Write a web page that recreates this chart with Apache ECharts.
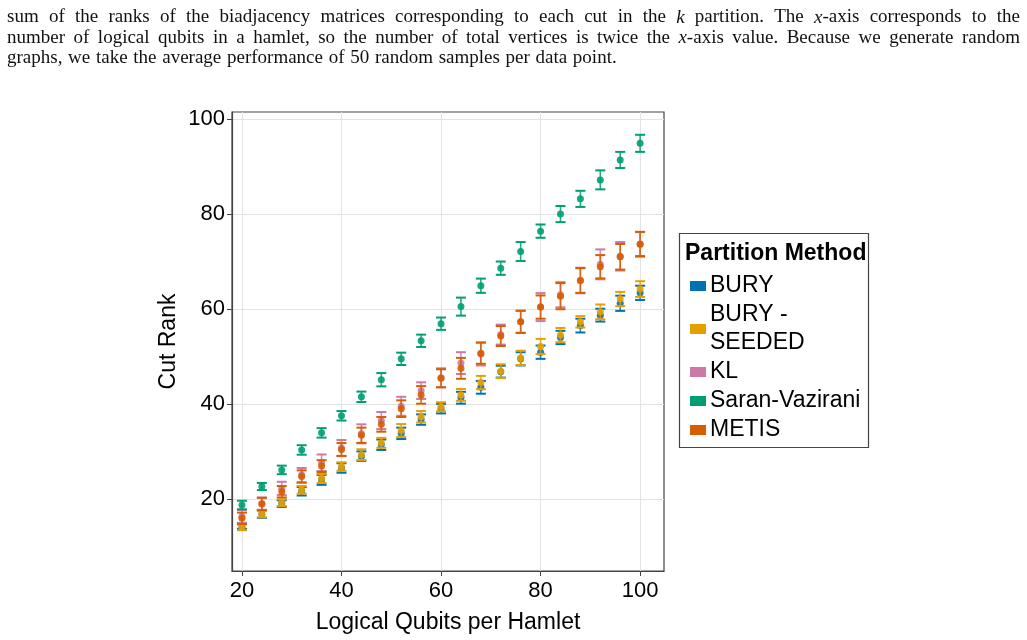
<!DOCTYPE html>
<html>
<head>
<meta charset="utf-8">
<script src="https://cdn.jsdelivr.net/npm/echarts@6/dist/echarts.min.js"></script>
<style>
  html, body { margin: 0; padding: 0; background: #fff; }
  #chart { width: 1027px; height: 640px; }
</style>
</head>
<body>
<div id="chart"></div>
<script>
// logical qubits per hamlet
const qubits = [20, 24, 28, 32, 36, 40, 44, 48, 52, 56, 60, 64, 68, 72, 76, 80, 84, 88, 92, 96, 100]

// mean cut rank and error half-widths
const buryMean = [14.3, 16.8, 19.0, 21.6, 24.0, 26.5, 29.0, 31.4, 33.8, 36.7, 39.0, 41.3, 43.5, 46.8, 49.5, 50.9, 54.0, 56.5, 58.7, 61.2, 63.4]
const buryErr = [0.6, 0.8, 0.7, 0.9, 1.05, 1.0, 1.0, 1.1, 1.2, 1.1, 1.0, 1.25, 1.35, 1.25, 1.4, 1.4, 1.4, 1.45, 1.35, 1.6, 1.5]

const seededMean = [14.0, 16.8, 19.2, 21.9, 24.3, 26.8, 29.3, 31.8, 34.4, 37.3, 39.4, 41.9, 44.5, 46.9, 49.7, 52.1, 54.5, 57.3, 59.4, 62.1, 64.2]
const seededErr = [0.6, 0.7, 0.7, 0.8, 0.95, 0.9, 1.15, 1.05, 1.35, 1.2, 0.95, 1.25, 1.4, 1.45, 1.5, 1.6, 1.5, 1.2, 1.55, 1.5, 1.65]

const klMean = [16.3, 19.0, 22.2, 25.0, 27.6, 30.7, 33.7, 36.5, 39.5, 42.8, 45.5, 48.6, 50.5, 54.6, 57.3, 60.4, 63.0, 66.0, 69.4, 71.1, 73.6]
const klErr = [1.35, 1.3, 1.4, 1.5, 1.75, 1.7, 2.0, 1.8, 2.0, 1.75, 2.0, 2.3, 2.4, 2.1, 2.3, 2.95, 2.65, 2.7, 3.15, 3.0, 2.6]

const svMean = [18.7, 22.6, 26.1, 30.3, 33.9, 37.5, 41.5, 45.1, 49.5, 53.3, 56.9, 60.5, 64.9, 68.6, 72.1, 76.4, 80.0, 83.2, 87.2, 91.4, 94.9]
const svErr = [0.9, 0.75, 0.9, 1.0, 1.0, 1.0, 1.1, 1.4, 1.3, 1.3, 1.3, 1.9, 1.5, 1.4, 2.0, 1.4, 1.7, 1.7, 2.0, 1.7, 1.8]

const metisMean = [15.9, 18.9, 21.5, 24.7, 26.9, 30.4, 33.4, 35.7, 39.0, 41.9, 45.4, 47.5, 50.7, 54.3, 57.3, 60.4, 62.7, 66.0, 68.9, 71.0, 73.7]
const metisErr = [1.2, 1.3, 1.2, 1.3, 1.25, 1.35, 1.6, 1.55, 1.75, 1.85, 1.9, 2.2, 2.25, 2.1, 2.35, 2.45, 2.75, 2.6, 2.45, 2.7, 2.55]

const methods = ['BURY', 'BURY - SEEDED', 'KL', 'Saran-Vazirani', 'METIS']
const xTicks = [20, 40, 60, 80, 100]
const yTicks = [20, 40, 60, 80, 100]

const captionLines = [
  'sum of the ranks of the biadjacency matrices corresponding to each cut in the |k| partition.  The |x|-axis corresponds to the',
  'number of logical qubits in a hamlet, so the number of total vertices is twice the |x|-axis value.  Because we generate random',
  'graphs, we take the average performance of 50 random samples per data point.'
]

const colors = ['#0072B2', '#E69F00', '#CC79A7', '#009E73', '#D55E00']
const means = [buryMean, seededMean, klMean, svMean, metisMean]
const errs = [buryErr, seededErr, klErr, svErr, metisErr]

const FONT = '"Liberation Sans", Arial, sans-serif'
const SERIF = '"Liberation Serif", "DejaVu Serif", serif'

const myChart = echarts.init(document.getElementById('chart'), null, { renderer: 'canvas' })

function errorBarItem (color) {
  return function (params, api) {
    const lo = api.coord([api.value(0), api.value(1)])
    const hi = api.coord([api.value(0), api.value(2)])
    const half = 5
    const style = { stroke: color, lineWidth: 2 }
    return {
      type: 'group',
      children: [
        { type: 'line', shape: { x1: lo[0], y1: lo[1], x2: hi[0], y2: hi[1] }, style: { stroke: color, lineWidth: 1.6, opacity: 0.85 } },
        { type: 'line', shape: { x1: lo[0] - half, y1: lo[1], x2: lo[0] + half, y2: lo[1] }, style },
        { type: 'line', shape: { x1: hi[0] - half, y1: hi[1], x2: hi[0] + half, y2: hi[1] }, style }
      ]
    }
  }
}

const series = []
methods.forEach((name, i) => {
  series.push({
    name,
    type: 'custom',
    renderItem: errorBarItem(colors[i]),
    itemStyle: { color: colors[i] },
    encode: { x: 0, y: [1, 2] },
    data: qubits.map((q, j) => [q, means[i][j] - errs[i][j], means[i][j] + errs[i][j]]),
    z: 2 + i,
    silent: true
  })
  series.push({
    name,
    type: 'scatter',
    symbol: 'circle',
    symbolSize: 7,
    itemStyle: { color: colors[i], opacity: 0.9 },
    data: qubits.map((q, j) => [q, means[i][j]]),
    z: 2 + i,
    silent: true
  })
})

// justified caption text, word by word
function captionGraphics () {
  const ctx = document.createElement('canvas').getContext('2d')
  const size = 19
  const left = 7
  const right = 1020
  const out = []
  captionLines.forEach((line, li) => {
    const words = line.split(/\s+/)
    const widths = words.map(w => {
      const parts = w.split('|')
      let wd = 0
      parts.forEach((p, k) => {
        ctx.font = (k % 2 ? 'italic ' : '') + size + 'px ' + SERIF
        wd += ctx.measureText(p).width
      })
      return wd
    })
    const total = widths.reduce((a, b) => a + b, 0)
    const last = li === captionLines.length - 1
    const gap = last ? size * 0.3 : (right - left - total) / (words.length - 1)
    let x = left
    words.forEach((w, k) => {
      const parts = w.split('|')
      const text = parts.map((p, n) => n % 2 ? '{i|' + p + '}' : (p ? '{r|' + p + '}' : '')).join('')
      out.push({
        type: 'text',
        left: x,
        top: 8 + li * 20.5,
        style: {
          text,
          rich: {
            r: { fontFamily: SERIF, fontSize: size, fill: '#111' },
            i: { fontFamily: SERIF, fontSize: size, fontStyle: 'italic', fill: '#111' }
          }
        }
      })
      x += widths[k] + gap
    })
  })
  return out
}

const options = {
  animation: false,
  backgroundColor: '#fff',
  grid: {
    left: 232,
    right: 363,
    top: 112,
    bottom: 69,
    show: true,
    borderColor: '#444',
    borderWidth: 1.2
  },
  xAxis: {
    type: 'value',
    min: 18,
    max: 104.8,
    name: 'Logical Qubits per Hamlet',
    nameLocation: 'middle',
    nameGap: 40,
    nameTextStyle: { fontFamily: FONT, fontSize: 23, color: '#000' },
    axisLine: { show: true, onZero: false, lineStyle: { color: '#444', width: 1.2 } },
    axisTick: { show: true, length: 5, customValues: xTicks, lineStyle: { color: '#444' } },
    axisLabel: { customValues: xTicks, margin: 9, fontFamily: FONT, fontSize: 22, color: '#000' },
    splitLine: { show: true, lineStyle: { color: '#e3e3e3', width: 1 } }
  },
  yAxis: {
    type: 'value',
    min: 4.8,
    max: 101.5,
    name: 'Cut Rank',
    nameLocation: 'middle',
    nameGap: 52,
    nameTextStyle: { fontFamily: FONT, fontSize: 23, color: '#000' },
    axisLine: { show: true, onZero: false, lineStyle: { color: '#444', width: 1.2 } },
    axisTick: { show: true, length: 5, customValues: yTicks, lineStyle: { color: '#444' } },
    axisLabel: { customValues: yTicks, margin: 7, fontFamily: FONT, fontSize: 22, color: '#000' },
    splitLine: { show: true, lineStyle: { color: '#e3e3e3', width: 1 } }
  },
  legend: {
    data: methods,
    orient: 'vertical',
    left: 690,
    top: 272,
    icon: 'rect',
    itemWidth: 16,
    itemHeight: 10,
    itemGap: 1,
    padding: 0,
    formatter: name => name === 'BURY - SEEDED' ? 'BURY -\nSEEDED' : name,
    textStyle: { fontFamily: FONT, fontSize: 23, color: '#000', lineHeight: 28, padding: [0, 0, 0, -1] }
  },
  graphic: [
    {
      type: 'rect',
      shape: { x: 679.5, y: 233.5, width: 189, height: 214 },
      style: { fill: '#fff', stroke: '#444', lineWidth: 1.2 },
      z: -1
    },
    {
      type: 'text',
      left: 685,
      top: 242,
      style: { text: 'Partition Method', font: 'bold 23px ' + FONT, fill: '#000' }
    }
  ].concat(captionGraphics()),
  series
}

myChart.setOption(options)
</script>
</body>
</html>
